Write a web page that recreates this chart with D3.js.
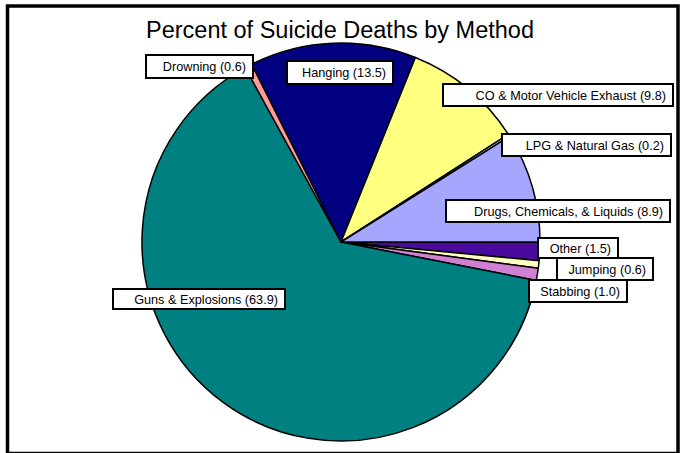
<!DOCTYPE html>
<html>
<head>
<meta charset="utf-8">
<script src="https://cdn.jsdelivr.net/npm/d3@7/dist/d3.min.js"></script>
<style>
  html, body { margin: 0; padding: 0; background: #fff; }
  svg { display: block; }
  text { font-family: "Liberation Sans", Arial, sans-serif; }
</style>
</head>
<body>
<svg id="chart" width="689" height="453"></svg>
<script>
// Suicide deaths by method, percent of total (slices run clockwise from 3 o'clock)
const categories = ["Other", "Jumping", "Stabbing", "Guns & Explosions", "Drowning",
                    "Hanging", "CO & Motor Vehicle Exhaust", "LPG & Natural Gas",
                    "Drugs, Chemicals, & Liquids"];
const percents = [1.5, 0.6, 1.0, 63.9, 0.6, 13.5, 9.8, 0.2, 8.9];
const sliceColors = ["#4B0A9E", "#FFFFC0", "#D080D0", "#008080", "#FF9999",
                     "#000080", "#FFFF80", "#C0E0FF", "#A6A6FF"];
const title = "Percent of Suicide Deaths by Method";

// Label boxes: left, top, right, bottom
const labelBoxes = [
  [538, 238, 618, 258],
  [557, 258, 653, 280],
  [529, 280, 627, 302],
  [113, 289, 285, 309],
  [146, 55, 253, 78],
  [287, 61, 393, 84],
  [443, 84, 673, 106],
  [502, 134, 671, 156],
  [446, 200, 670, 222]
];

const svg = d3.select("#chart");

// outer frame
svg.append("rect")
  .attr("x", 7.5).attr("y", 6)
  .attr("width", 670.5).attr("height", 447.5)
  .attr("fill", "#fff").attr("stroke", "#000").attr("stroke-width", 3.5);

svg.append("text")
  .attr("x", 340).attr("y", 37.5)
  .attr("text-anchor", "middle")
  .attr("font-size", 23.5)
  .attr("fill", "#000")
  .text(title);

const cx = 341, cy = 242, r = 199;
const data = categories.map((c, i) => ({ name: c, value: percents[i], color: sliceColors[i] }));

const pie = d3.pie().sort(null).value(d => d.value)
  .startAngle(Math.PI / 2).endAngle(Math.PI / 2 + 2 * Math.PI);
const arc = d3.arc().innerRadius(0).outerRadius(r);

const g = svg.append("g").attr("transform", `translate(${cx},${cy})`);
g.selectAll("path.slice")
  .data(pie(data))
  .join("path")
  .attr("class", "slice")
  .attr("d", arc)
  .attr("fill", d => d.data.color)
  .attr("stroke", "#000")
  .attr("stroke-width", 1.5)
  .attr("stroke-linejoin", "round");

// data labels
const lg = svg.append("g");
data.forEach((d, i) => {
  const [x0, y0, x1, y1] = labelBoxes[i];
  const lab = lg.append("g");
  lab.append("rect")
    .attr("x", x0).attr("y", y0)
    .attr("width", x1 - x0).attr("height", y1 - y0)
    .attr("fill", "#fff").attr("stroke", "#000").attr("stroke-width", 2);
  lab.append("text")
    .attr("x", x1 - 7).attr("y", (y0 + y1) / 2 + 4.5)
    .attr("text-anchor", "end")
    .attr("font-size", 12.7)
    .attr("fill", "#000")
    .text(`${d.name} (${d3.format(".1f")(d.value)})`);
});
</script>
</body>
</html>
